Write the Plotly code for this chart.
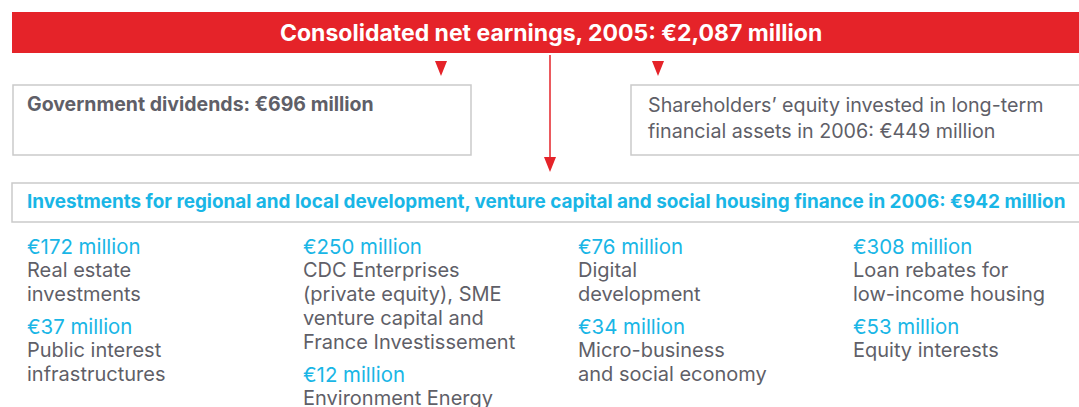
import plotly.graph_objects as go

# headline figures (EUR million)
net_earnings = 2087
dividends = 696
equity_invested = 449
regional_total = 942

# breakdown of the 942 million
amounts = [172, 37, 250, 12, 76, 34, 308, 53]
labels = [
    ["Real estate", "investments"],
    ["Public interest", "infrastructures"],
    ["CDC Enterprises", "(private equity), SME", "venture capital and", "France Investissement"],
    ["Environment Energy"],
    ["Digital", "development"],
    ["Micro-business", "and social economy"],
    ["Loan rebates for", "low-income housing"],
    ["Equity interests"],
]
column = [0, 0, 1, 1, 2, 2, 3, 3]

RED = "#e52329"
GREY = "#5f5f68"
CYAN = "#19b6e6"
BORDER = "#cacaca"
FONT = "Inter, Liberation Sans, Arial, sans-serif"

W, H = 1079, 407
col_x = [25, 301, 576, 851]
first_y = 246
line_h = 24
block_gap = 32

fig = go.Figure()
fig.add_trace(go.Scatter(x=[0, W], y=[0, H], mode="markers",
                         marker=dict(opacity=0), hoverinfo="skip", showlegend=False))

shapes = []
ann = []

# red banner
shapes.append(dict(type="rect", x0=12, x1=W + 20, y0=12, y1=53,
                   fillcolor=RED, line=dict(width=0)))
ann.append(dict(x=551, y=33, xanchor="center", yanchor="middle",
                text="<b>Consolidated net earnings, 2005: €{:,} million</b>".format(net_earnings),
                font=dict(color="white", size=23, family=FONT)))

# small triangles and the long arrow
for cx in [441, 658]:
    shapes.append(dict(type="path", path="M {} 61 L {} 61 L {} 76 Z".format(cx - 6, cx + 6, cx),
                       fillcolor=RED, line=dict(width=0)))
shapes.append(dict(type="line", x0=550, x1=550, y0=55, y1=160, line=dict(color=RED, width=1.5)))
shapes.append(dict(type="path", path="M 544 157 L 556 157 L 550 172 Z",
                   fillcolor=RED, line=dict(width=0)))

# boxes
shapes.append(dict(type="rect", x0=13, x1=471, y0=85, y1=155,
                   line=dict(color=BORDER, width=1.5)))
shapes.append(dict(type="rect", x0=631, x1=W + 20, y0=85, y1=155,
                   line=dict(color=BORDER, width=1.5)))
shapes.append(dict(type="rect", x0=12, x1=W + 20, y0=183, y1=222,
                   line=dict(color=BORDER, width=1.5)))

ann.append(dict(x=25, y=104, xanchor="left", yanchor="middle",
                text="<b>Government dividends: €{} million</b>".format(dividends),
                font=dict(color=GREY, size=19.5, family=FONT)))
ann.append(dict(x=646, y=105, xanchor="left", yanchor="middle",
                text="Shareholders’ equity invested in long-term",
                font=dict(color=GREY, size=19.7, family=FONT)))
ann.append(dict(x=646, y=131, xanchor="left", yanchor="middle",
                text="financial assets in 2006: €{} million".format(equity_invested),
                font=dict(color=GREY, size=19.7, family=FONT)))
ann.append(dict(x=25, y=201, xanchor="left", yanchor="middle",
                text="<b>Investments for regional and local development, venture capital and social housing finance in 2006: €{} million</b>".format(regional_total),
                font=dict(color=CYAN, size=18.9, family=FONT)))

# columns of amounts
cursor = [first_y] * 4
for amt, lab, c in zip(amounts, labels, column):
    y = cursor[c]
    ann.append(dict(x=col_x[c], y=y, xanchor="left", yanchor="middle",
                    text="€{} million".format(amt),
                    font=dict(color=CYAN, size=20.4, family=FONT)))
    for line in lab:
        y += line_h
        ann.append(dict(x=col_x[c], y=y, xanchor="left", yanchor="middle",
                        text=line, font=dict(color=GREY, size=20, family=FONT)))
    cursor[c] = y + block_gap

for a in ann:
    a.update(xref="x", yref="y", showarrow=False)

fig.update_layout(
    width=W, height=H,
    margin=dict(l=0, r=0, t=0, b=0),
    paper_bgcolor="white", plot_bgcolor="white",
    xaxis=dict(range=[0, W], visible=False, fixedrange=True),
    yaxis=dict(range=[H, 0], visible=False, fixedrange=True),
    shapes=shapes, annotations=ann,
    showlegend=False,
)

# drop the page's default body margin so the figure sits at the window corner
fig.write_html("out.html", config={"displayModeBar": False},
               post_script="document.body.style.margin = '0px';")
